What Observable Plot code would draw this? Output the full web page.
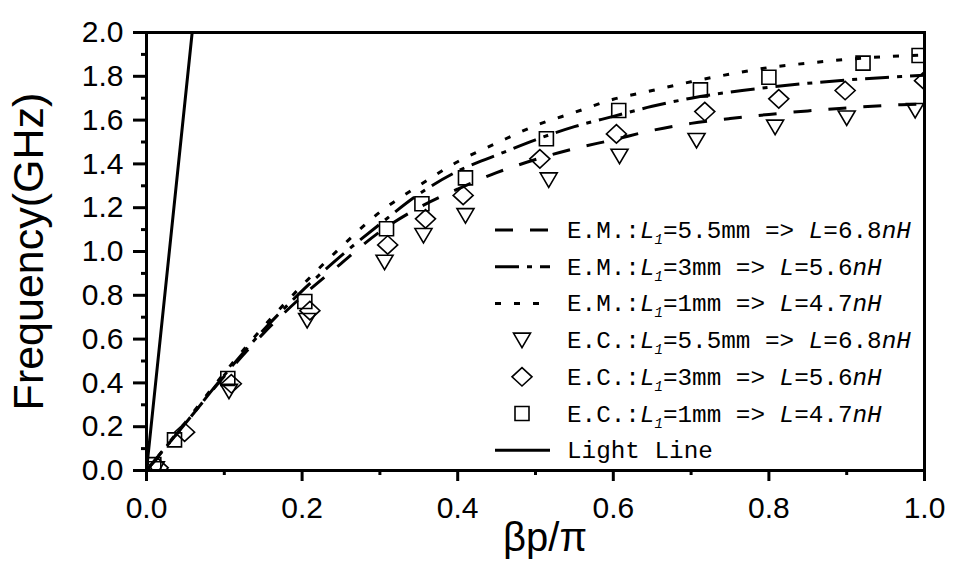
<!DOCTYPE html>
<html>
<head>
<meta charset="utf-8">
<script src="https://cdn.jsdelivr.net/npm/d3@7"></script>
<script src="https://cdn.jsdelivr.net/npm/@observablehq/plot@0.6"></script>
<style>
  html, body { margin: 0; padding: 0; background: #fff; }
  #chart svg { display: block; }
</style>
</head>
<body>
<div id="chart"></div>
<script>
// ---- data ----
const betaGrid = [0, 0.05, 0.1, 0.15, 0.2, 0.25, 0.3, 0.35, 0.4, 0.45, 0.5, 0.55, 0.6, 0.65, 0.7, 0.75, 0.8, 0.85, 0.9, 0.95, 1.0];
const emL55 = [0, 0.215, 0.43, 0.625, 0.795, 0.945, 1.09, 1.20, 1.285, 1.36, 1.42, 1.47, 1.51, 1.553, 1.585, 1.607, 1.626, 1.642, 1.655, 1.667, 1.674];
const emL3  = [0, 0.215, 0.435, 0.64, 0.82, 0.98, 1.125, 1.262, 1.367, 1.44, 1.51, 1.57, 1.617, 1.663, 1.70, 1.728, 1.75, 1.768, 1.783, 1.795, 1.805];
const emL1  = [0, 0.22, 0.445, 0.655, 0.845, 1.02, 1.18, 1.30, 1.41, 1.495, 1.575, 1.635, 1.695, 1.735, 1.775, 1.81, 1.84, 1.86, 1.877, 1.89, 1.897];

const ecL55X = [0.012, 0.106, 0.2065, 0.306, 0.356, 0.41, 0.517, 0.608, 0.707, 0.808, 0.9, 0.988];
const ecL55F = [0.008, 0.362, 0.685, 0.951, 1.073, 1.164, 1.327, 1.435, 1.507, 1.568, 1.61, 1.644];
const ecL3X  = [0.015, 0.049, 0.109, 0.21, 0.31, 0.3586, 0.407, 0.5056, 0.604, 0.7176, 0.8127, 0.898, 1.0];
const ecL3F  = [0.012, 0.175, 0.396, 0.73, 1.03, 1.149, 1.256, 1.423, 1.537, 1.639, 1.697, 1.735, 1.78];
const ecL1X  = [0.0094, 0.036, 0.1045, 0.2035, 0.3085, 0.354, 0.41, 0.514, 0.607, 0.712, 0.80, 0.921, 0.993];
const ecL1F  = [0.027, 0.14, 0.42, 0.772, 1.104, 1.218, 1.336, 1.515, 1.644, 1.738, 1.796, 1.86, 1.895];

const lightX = [0, 0.0587];
const lightF = [0, 2.0];

const xTickValues = [0, 0.2, 0.4, 0.6, 0.8, 1.0];
const xMinorValues = [0.1, 0.3, 0.5, 0.7, 0.9];
const yTickValues = [0, 0.2, 0.4, 0.6, 0.8, 1.0, 1.2, 1.4, 1.6, 1.8, 2.0];
const yMinorValues = [0.1, 0.3, 0.5, 0.7, 0.9, 1.1, 1.3, 1.5, 1.7, 1.9];

const xTitle = "βp/π";
const yTitle = "Frequency(GHz)";
const legendPrefix = ["E.M.:", "E.M.:", "E.M.:", "E.C.:", "E.C.:", "E.C.:"];
const legendL1 = ["5.5mm", "3mm", "1mm", "5.5mm", "3mm", "1mm"];
const legendL = ["6.8", "5.6", "4.7", "6.8", "5.6", "4.7"];
const lightLabel = "Light Line";

// ---- marker shapes ----
const triDown = {draw(ctx, size) { const r = Math.sqrt(size / Math.PI);
  ctx.moveTo(-r, -0.82 * r); ctx.lineTo(r, -0.82 * r); ctx.lineTo(0, 0.88 * r); ctx.closePath(); }};
const diamond = {draw(ctx, size) { const r = Math.sqrt(size / Math.PI);
  ctx.moveTo(0, -0.92 * r); ctx.lineTo(r, 0); ctx.lineTo(0, 0.92 * r); ctx.lineTo(-r, 0); ctx.closePath(); }};
const square = {draw(ctx, size) { const r = Math.sqrt(size / Math.PI);
  ctx.moveTo(-r, -r); ctx.lineTo(r, -r); ctx.lineTo(r, r); ctx.lineTo(-r, r); ctx.closePath(); }};

const curve = (ys) => betaGrid.map((x, i) => ({x, y: ys[i]}));
const pts = (xs, ys) => xs.map((x, i) => ({x, y: ys[i]}));

const dashA = "18,17", dashB = "24,8,5,8", dashC = "6,13";
const lw = 3;

const chart = Plot.plot({
  width: 953, height: 568,
  marginLeft: 146, marginRight: 29, marginTop: 32, marginBottom: 98,
  style: {fontFamily: "'Liberation Sans', Arial, sans-serif", background: "#fff", color: "#000"},
  x: {domain: [0, 1]},
  y: {domain: [0, 2]},
  marks: [
    Plot.axisX(xMinorValues, {tickSize: 5, tickFormat: () => "", strokeWidth: 3, label: null}),
    Plot.axisX(xTickValues, {tickSize: 11, tickPadding: 15, tickFormat: d3.format(".1f"), fontSize: 30, strokeWidth: 3, label: null}),
    Plot.axisY(yMinorValues, {tickSize: 5, tickFormat: () => "", strokeWidth: 3, label: null}),
    Plot.axisY(yTickValues, {tickSize: 13, tickPadding: 10, tickFormat: d3.format(".1f"), fontSize: 30, strokeWidth: 3, label: null}),
    Plot.line(pts(lightX, lightF), {x: "x", y: "y", stroke: "#000", strokeWidth: lw, clip: true}),
    Plot.line(curve(emL55), {x: "x", y: "y", stroke: "#000", strokeWidth: lw, strokeDasharray: dashA, strokeLinecap: "butt", curve: "catmull-rom", clip: true}),
    Plot.line(curve(emL3), {x: "x", y: "y", stroke: "#000", strokeWidth: lw, strokeDasharray: dashB, strokeLinecap: "butt", curve: "catmull-rom", clip: true}),
    Plot.line(curve(emL1), {x: "x", y: "y", stroke: "#000", strokeWidth: lw, strokeDasharray: dashC, strokeLinecap: "butt", curve: "catmull-rom", clip: true}),
    Plot.dot(pts(ecL55X, ecL55F), {x: "x", y: "y", symbol: triDown, r: 8.5, stroke: "#000", strokeWidth: 1.6, fill: "none", clip: true}),
    Plot.dot(pts(ecL3X, ecL3F), {x: "x", y: "y", symbol: diamond, r: 10, stroke: "#000", strokeWidth: 1.6, fill: "none", clip: true}),
    Plot.dot(pts(ecL1X, ecL1F), {x: "x", y: "y", symbol: square, r: 7, stroke: "#000", strokeWidth: 1.6, fill: "none", clip: true}),
    Plot.frame({stroke: "#000", strokeWidth: 3})
  ]
});
document.getElementById("chart").appendChild(chart);

const svg = d3.select(chart);

// ---- axis titles ----
const titles = svg.append("g").attr("font-family", "'Liberation Sans', Arial, sans-serif").attr("fill", "#000").attr("text-anchor", "middle");
titles.append("text").attr("transform", "translate(43,251.5) rotate(-90)").attr("font-size", 43).text(yTitle);
titles.append("text").attr("x", 545).attr("y", 551).attr("font-size", 40).text(xTitle);

// ---- legend (inside plot, lower right) ----
const lg = svg.append("g")
  .attr("font-family", "'Liberation Mono', 'DejaVu Sans Mono', monospace")
  .attr("font-size", 24.3)
  .attr("fill", "#000")
  .attr("text-anchor", "start")
  .style("white-space", "pre");
const rowTop = 230, rowStep = 36.7, sampleX0 = 495, sampleX1 = 550, markX = 522, textX = 567;
const rowStyles = [
  {dash: dashA}, {dash: dashB}, {dash: dashC},
  {sym: triDown, r: 8.5}, {sym: diamond, r: 10}, {sym: square, r: 7}
];
rowStyles.forEach((s, i) => {
  const cy = rowTop + i * rowStep;
  if (s.dash) {
    lg.append("line").attr("x1", sampleX0).attr("x2", sampleX1).attr("y1", cy).attr("y2", cy)
      .attr("stroke", "#000").attr("stroke-width", lw).attr("stroke-dasharray", s.dash);
  } else {
    lg.append("path").attr("transform", `translate(${markX},${cy})`)
      .attr("d", d3.symbol(s.sym, s.r * s.r * Math.PI)())
      .attr("fill", "none").attr("stroke", "#000").attr("stroke-width", 1.6);
  }
  const t = lg.append("text").attr("x", textX).attr("y", cy + 8);
  t.append("tspan").text(legendPrefix[i]);
  t.append("tspan").attr("font-style", "italic").text("L");
  t.append("tspan").attr("font-style", "italic").attr("font-size", 14).attr("dy", 6).text("1");
  t.append("tspan").attr("dy", -6).text("=" + legendL1[i] + " => ");
  t.append("tspan").attr("font-style", "italic").text("L");
  t.append("tspan").text("=" + legendL[i]);
  t.append("tspan").attr("font-style", "italic").text("nH");
});
{
  const cy = rowTop + 6 * rowStep;
  lg.append("line").attr("x1", sampleX0).attr("x2", sampleX1).attr("y1", cy).attr("y2", cy)
    .attr("stroke", "#000").attr("stroke-width", lw);
  lg.append("text").attr("x", textX).attr("y", cy + 8).text(lightLabel);
}
</script>
</body>
</html>
